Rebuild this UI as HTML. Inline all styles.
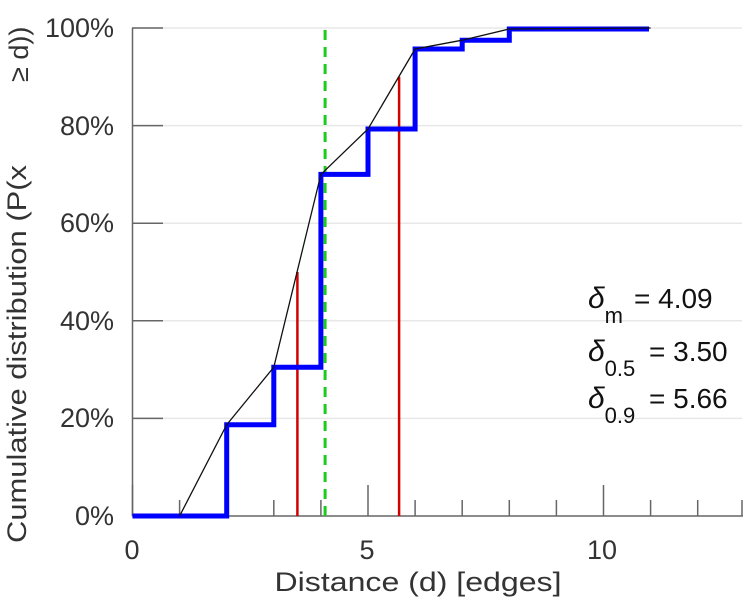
<!DOCTYPE html>
<html><head><meta charset="utf-8"><style>body{margin:0;background:#fff}svg{display:block}</style></head>
<body>
<svg width="749" height="600" viewBox="0 0 749 600" xmlns="http://www.w3.org/2000/svg" font-family="Liberation Sans, sans-serif">
<g stroke="#e8e8e8" stroke-width="1.5">
<line x1="132" y1="28" x2="742" y2="28"/><line x1="132" y1="125.6" x2="742" y2="125.6"/><line x1="132" y1="223.2" x2="742" y2="223.2"/><line x1="132" y1="320.8" x2="742" y2="320.8"/><line x1="132" y1="418.4" x2="742" y2="418.4"/>
</g>
<g stroke="#666" stroke-width="1.5">
<line x1="132.5" y1="28" x2="132.5" y2="516"/>
<line x1="132" y1="516" x2="743" y2="516"/>
<line x1="132" y1="28" x2="163" y2="28"/><line x1="132" y1="125.6" x2="163" y2="125.6"/><line x1="132" y1="223.2" x2="163" y2="223.2"/><line x1="132" y1="320.8" x2="163" y2="320.8"/><line x1="132" y1="418.4" x2="163" y2="418.4"/>
<line x1="132.5" y1="485" x2="132.5" y2="516"/><line x1="368" y1="485" x2="368" y2="516"/><line x1="603.5" y1="485" x2="603.5" y2="516"/>
<line x1="179.6" y1="500" x2="179.6" y2="516"/><line x1="226.7" y1="500" x2="226.7" y2="516"/><line x1="273.8" y1="500" x2="273.8" y2="516"/><line x1="320.9" y1="500" x2="320.9" y2="516"/>
<line x1="415.1" y1="500" x2="415.1" y2="516"/><line x1="462.2" y1="500" x2="462.2" y2="516"/><line x1="509.3" y1="500" x2="509.3" y2="516"/><line x1="556.4" y1="500" x2="556.4" y2="516"/>
<line x1="650.6" y1="500" x2="650.6" y2="516"/><line x1="697.7" y1="500" x2="697.7" y2="516"/><line x1="742" y1="500" x2="742" y2="516"/>
</g>
<line x1="325.1" y1="516" x2="325.1" y2="30" stroke="#1ccc1c" stroke-width="3" stroke-dasharray="10,7"/>
<line x1="297.4" y1="516" x2="297.4" y2="272" stroke="#d40000" stroke-width="2.5"/>
<line x1="399.1" y1="516" x2="399.1" y2="76.8" stroke="#d40000" stroke-width="2.5"/>
<path d="M132.5,516 H226.7 V424.7 H273.8 V367.2 H320.9 V174.4 H368 V129 H415.1 V49 H462.2 V40.2 H509.3 V29 H649" fill="none" stroke="#0000ff" stroke-width="5"/>
<polyline points="179.6,516 226.7,424.7 273.8,367.2 320.9,174.4 368,129 415.1,49 462.2,40.2 509.3,29 650.6,28" fill="none" stroke="#111" stroke-width="1.3"/>
<g font-size="27" fill="#333" text-anchor="end">
<text x="114" y="37">100%</text><text x="114" y="135">80%</text><text x="114" y="232">60%</text><text x="114" y="330">40%</text><text x="114" y="427">20%</text><text x="114" y="525">0%</text>
</g>
<g font-size="27" fill="#333" text-anchor="middle">
<text x="132" y="559">0</text><text x="367" y="559">5</text><text x="602" y="559">10</text>
<text x="418" y="591" textLength="287" lengthAdjust="spacingAndGlyphs">Distance (d) [edges]</text>
</g>
<text transform="translate(26,543) rotate(-90)" font-size="27" fill="#333" textLength="378" lengthAdjust="spacingAndGlyphs">Cumulative distribution (P(x</text>
<text transform="translate(28,82) rotate(-90)" font-size="27" fill="#333">≥ d))</text>
<g font-size="28" fill="#111">
<text x="588" y="308"><tspan font-style="italic" font-size="30">δ</tspan><tspan font-size="22" dy="15">m</tspan></text>
<text x="634" y="308">= 4.09</text>
<text x="588" y="361"><tspan font-style="italic" font-size="30">δ</tspan><tspan font-size="22" dy="15">0.5</tspan></text>
<text x="649" y="361">= 3.50</text>
<text x="588" y="408"><tspan font-style="italic" font-size="30">δ</tspan><tspan font-size="22" dy="15">0.9</tspan></text>
<text x="649" y="408">= 5.66</text>
</g>
</svg>
</body></html>
